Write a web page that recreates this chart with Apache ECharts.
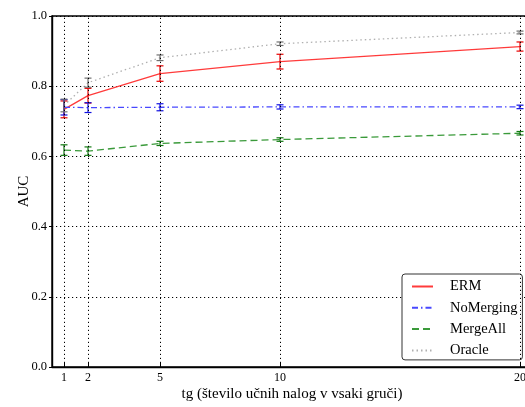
<!DOCTYPE html>
<html>
<head>
<meta charset="utf-8">
<script src="https://cdn.jsdelivr.net/npm/echarts@6/dist/echarts.min.js"></script>
<style>
  html, body { margin: 0; padding: 0; background: #fff; }
  #chart { width: 525px; height: 407px; }
</style>
</head>
<body>
<div id="chart"></div>
<script>
// tg values on the x axis
const tgValues = [1, 2, 5, 10, 20];

// mean AUC and error (half bar) per method
const ermMean = [0.734, 0.773, 0.836, 0.870, 0.913];
const ermErr = [0.024, 0.021, 0.022, 0.021, 0.013];
const noMergingMean = [0.740, 0.739, 0.740, 0.741, 0.741];
const noMergingErr = [0.022, 0.014, 0.010, 0.006, 0.005];
const mergeAllMean = [0.618, 0.615, 0.637, 0.648, 0.666];
const mergeAllErr = [0.015, 0.012, 0.006, 0.005, 0.005];
const oracleMean = [0.745, 0.810, 0.881, 0.921, 0.953];
const oracleErr = [0.018, 0.013, 0.008, 0.005, 0.004];

const font = "'Liberation Serif', 'DejaVu Serif', serif";

const methods = [
  { name: "ERM", mean: ermMean, err: ermErr, color: "#ff3b3b", barColor: "#e60000", type: "solid" },
  { name: "NoMerging", mean: noMergingMean, err: noMergingErr, color: "#4848ff", barColor: "#1010e0", type: [6, 3, 1.5, 3] },
  { name: "MergeAll", mean: mergeAllMean, err: mergeAllErr, color: "#3a9a3a", barColor: "#127a12", type: [7, 4] },
  { name: "Oracle", mean: oracleMean, err: oracleErr, color: "#b0b0b0", barColor: "#707070", type: [1.5, 3] },
];

function errorBarItem(color) {
  return function (params, api) {
    const x = api.value(0);
    const top = api.coord([x, api.value(2)]);
    const bot = api.coord([x, api.value(1)]);
    const w = 3.5;
    const style = { stroke: color, lineWidth: 1.2, fill: null };
    return {
      type: "group",
      children: [
        { type: "line", shape: { x1: top[0], y1: top[1], x2: bot[0], y2: bot[1] }, style: style },
        { type: "line", shape: { x1: top[0] - w, y1: top[1], x2: top[0] + w, y2: top[1] }, style: style },
        { type: "line", shape: { x1: bot[0] - w, y1: bot[1], x2: bot[0] + w, y2: bot[1] }, style: style },
      ],
    };
  };
}

const series = [];
// vertical dotted grid lines at tg values
series.push({
  type: "line",
  name: "_grid",
  data: [],
  silent: true,
  markLine: {
    symbol: "none",
    silent: true,
    label: { show: false },
    lineStyle: { color: "#000", type: [1.2, 2.8], width: 1 },
    data: tgValues.map(v => ({ xAxis: v })),
  },
});
methods.forEach(m => {
  series.push({
    type: "line",
    name: m.name,
    data: tgValues.map((x, i) => [x, m.mean[i]]),
    symbol: "none",
    color: m.color,
    lineStyle: { color: m.color, width: 1.3, type: m.type },
    z: 3,
  });
});
methods.forEach(m => {
  series.push({
    type: "custom",
    name: m.name + "_err",
    renderItem: errorBarItem(m.barColor),
    data: tgValues.map((x, i) => [x, m.mean[i] - m.err[i], m.mean[i] + m.err[i]]),
    z: 4,
  });
});

const chart = echarts.init(document.getElementById("chart"));
chart.setOption({
  animation: false,
  backgroundColor: "#fff",
  grid: {
    left: 52, top: 16, width: 480, height: 351,
    containLabel: false, outerBoundsMode: "none",
    show: true, borderColor: "#000", borderWidth: 1.4,
  },
  legend: {
    data: methods.map(m => m.name),
    orient: "vertical",
    left: 402, top: 274,
    itemWidth: 21, itemHeight: 14, itemGap: 6.3,
    padding: [5, 5, 2, 9],
    backgroundColor: "#fff",
    borderColor: "#333", borderWidth: 1, borderRadius: 3,
    itemStyle: { opacity: 0, borderWidth: 0 },
    textStyle: { fontFamily: font, fontSize: 14.5, color: "#000", padding: [0, 0, 0, 12] },
  },
  xAxis: {
    type: "value",
    min: 0.5, max: 20.5,
    name: "tg (število učnih nalog v vsaki gruči)",
    nameLocation: "middle", nameGap: 20, nameMoveOverlap: false,
    nameTextStyle: { fontFamily: font, fontSize: 15, color: "#000" },
    axisLine: { lineStyle: { color: "#000", width: 1.4 } },
    axisTick: { inside: true, length: 4, customValues: tgValues, lineStyle: { color: "#000" } },
    axisLabel: { customValues: tgValues, fontFamily: font, fontSize: 12, color: "#000", margin: 5 },
    splitLine: { show: false },
  },
  yAxis: {
    type: "value",
    min: 0, max: 1, interval: 0.2,
    name: "AUC",
    nameLocation: "middle", nameGap: 20, nameMoveOverlap: false,
    nameTextStyle: { fontFamily: font, fontSize: 15, color: "#000" },
    axisLine: { show: true, lineStyle: { color: "#000", width: 1.4 } },
    axisTick: { show: true, length: 3, lineStyle: { color: "#000" } },
    axisLabel: { fontFamily: font, fontSize: 12.5, color: "#000", margin: 5, formatter: v => v.toFixed(1) },
    splitLine: { show: true, lineStyle: { color: "#000", type: [1.2, 2.8], width: 1 } },
  },
  series: series,
});
</script>
</body>
</html>
